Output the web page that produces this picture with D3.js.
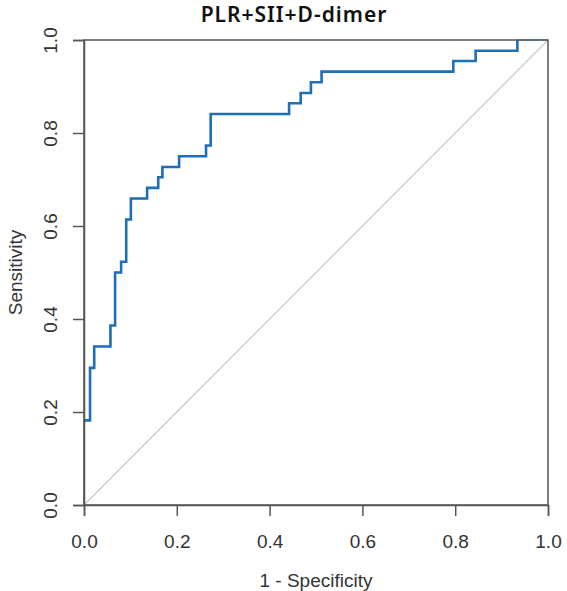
<!DOCTYPE html>
<html>
<head>
<meta charset="utf-8">
<script src="https://cdn.jsdelivr.net/npm/d3@7"></script>
<style>
  body { margin: 0; background: #fff; }
  text { font-family: "Liberation Sans", Arial, sans-serif; }
</style>
</head>
<body>
<div id="chart"></div>
<script>
// ROC curve corner points (1 - specificity, sensitivity)
const fpr = [0, 0, 0.013, 0.013, 0.022, 0.022, 0.057, 0.057, 0.067, 0.067, 0.080, 0.080,
             0.091, 0.091, 0.101, 0.101, 0.136, 0.136, 0.160, 0.160, 0.169, 0.169,
             0.205, 0.205, 0.263, 0.263, 0.273, 0.273, 0.442, 0.442, 0.467, 0.467,
             0.489, 0.489, 0.512, 0.512, 0.796, 0.796, 0.844, 0.844, 0.934, 0.934, 1];
const tpr = [0, 0.182, 0.182, 0.295, 0.295, 0.341, 0.341, 0.386, 0.386, 0.500, 0.500, 0.523,
             0.523, 0.614, 0.614, 0.659, 0.659, 0.682, 0.682, 0.705, 0.705, 0.727,
             0.727, 0.750, 0.750, 0.773, 0.773, 0.841, 0.841, 0.864, 0.864, 0.886,
             0.886, 0.909, 0.909, 0.932, 0.932, 0.955, 0.955, 0.977, 0.977, 1, 1];
const xTicks = [0, 0.2, 0.4, 0.6, 0.8, 1.0];
const yTicks = [0, 0.2, 0.4, 0.6, 0.8, 1.0];
const chartTitle = "PLR+SII+D-dimer";

const width = 567, height = 591;
const margin = {top: 40, right: 19, bottom: 86, left: 84};
const plotW = width - margin.left - margin.right;
const plotH = height - margin.top - margin.bottom;

const svg = d3.select("#chart").append("svg")
    .attr("width", width)
    .attr("height", height);

const g = svg.append("g")
    .attr("transform", `translate(${margin.left}, ${margin.top})`);

const x = d3.scaleLinear().domain([0, 1]).range([0, plotW]);
const y = d3.scaleLinear().domain([0, 1]).range([plotH, 0]);

// Diagonal reference line
g.append("line")
    .attr("x1", x(0)).attr("y1", y(0))
    .attr("x2", x(1)).attr("y2", y(1))
    .attr("stroke", "#c8c8c8")
    .attr("stroke-width", 1.2);

const pts = fpr.map((d, i) => [d, tpr[i]]);
const line = d3.line().x(d => x(d[0])).y(d => y(d[1]));

// thin full curve underneath, thick curve on top (ends stay thin)
g.append("path")
    .attr("d", line(pts))
    .attr("fill", "none")
    .attr("stroke", "#5aa8e0")
    .attr("stroke-width", 1.3);

g.append("path")
    .attr("d", line(pts.slice(1, pts.length - 1)))
    .attr("fill", "none")
    .attr("stroke", "#1f6fb8")
    .attr("stroke-width", 2.6);

// Box
g.append("rect")
    .attr("x", 0).attr("y", 0)
    .attr("width", plotW).attr("height", plotH)
    .attr("fill", "none")
    .attr("stroke", "#555")
    .attr("stroke-width", 1.5);

// Axes
const xAxis = g.append("g")
    .attr("transform", `translate(0, ${plotH})`)
    .call(d3.axisBottom(x).tickValues(xTicks).tickFormat(d3.format(".1f")).tickSize(11).tickPadding(19));
const yAxis = g.append("g")
    .call(d3.axisLeft(y).tickValues(yTicks).tickFormat(d3.format(".1f")).tickSize(11).tickPadding(0));

[xAxis, yAxis].forEach(a => {
    a.select(".domain").attr("stroke", "#555").attr("stroke-width", 1.5);
    a.selectAll(".tick line").attr("stroke", "#555").attr("stroke-width", 1.5);
    a.selectAll(".tick text")
        .attr("fill", "#333")
        .style("font-size", "19px")
        .style("font-family", "'Liberation Sans', Arial, sans-serif");
});

// Rotated y tick labels like R
yAxis.selectAll(".tick text")
    .attr("x", null).attr("dy", null)
    .attr("text-anchor", "middle")
    .attr("transform", "translate(-34, 0) rotate(-90)")
    .attr("dy", "0.35em");

// Axis titles
svg.append("text")
    .attr("x", margin.left + plotW / 2)
    .attr("y", 587)
    .attr("text-anchor", "middle")
    .attr("fill", "#333")
    .style("font-size", "19px")
    .text("1 - Specificity");

svg.append("text")
    .attr("transform", `translate(22, ${margin.top + plotH / 2}) rotate(-90)`)
    .attr("text-anchor", "middle")
    .attr("fill", "#333")
    .style("font-size", "19px")
    .text("Sensitivity");

// Title
svg.append("text")
    .attr("x", 294)
    .attr("y", 22)
    .attr("text-anchor", "middle")
    .attr("fill", "#111")
    .style("font-family", "'Noto Sans', sans-serif")
    .style("font-weight", "600")
    .style("letter-spacing", "1px")
    .style("font-size", "21px")
    .text(chartTitle);
</script>
</body>
</html>
